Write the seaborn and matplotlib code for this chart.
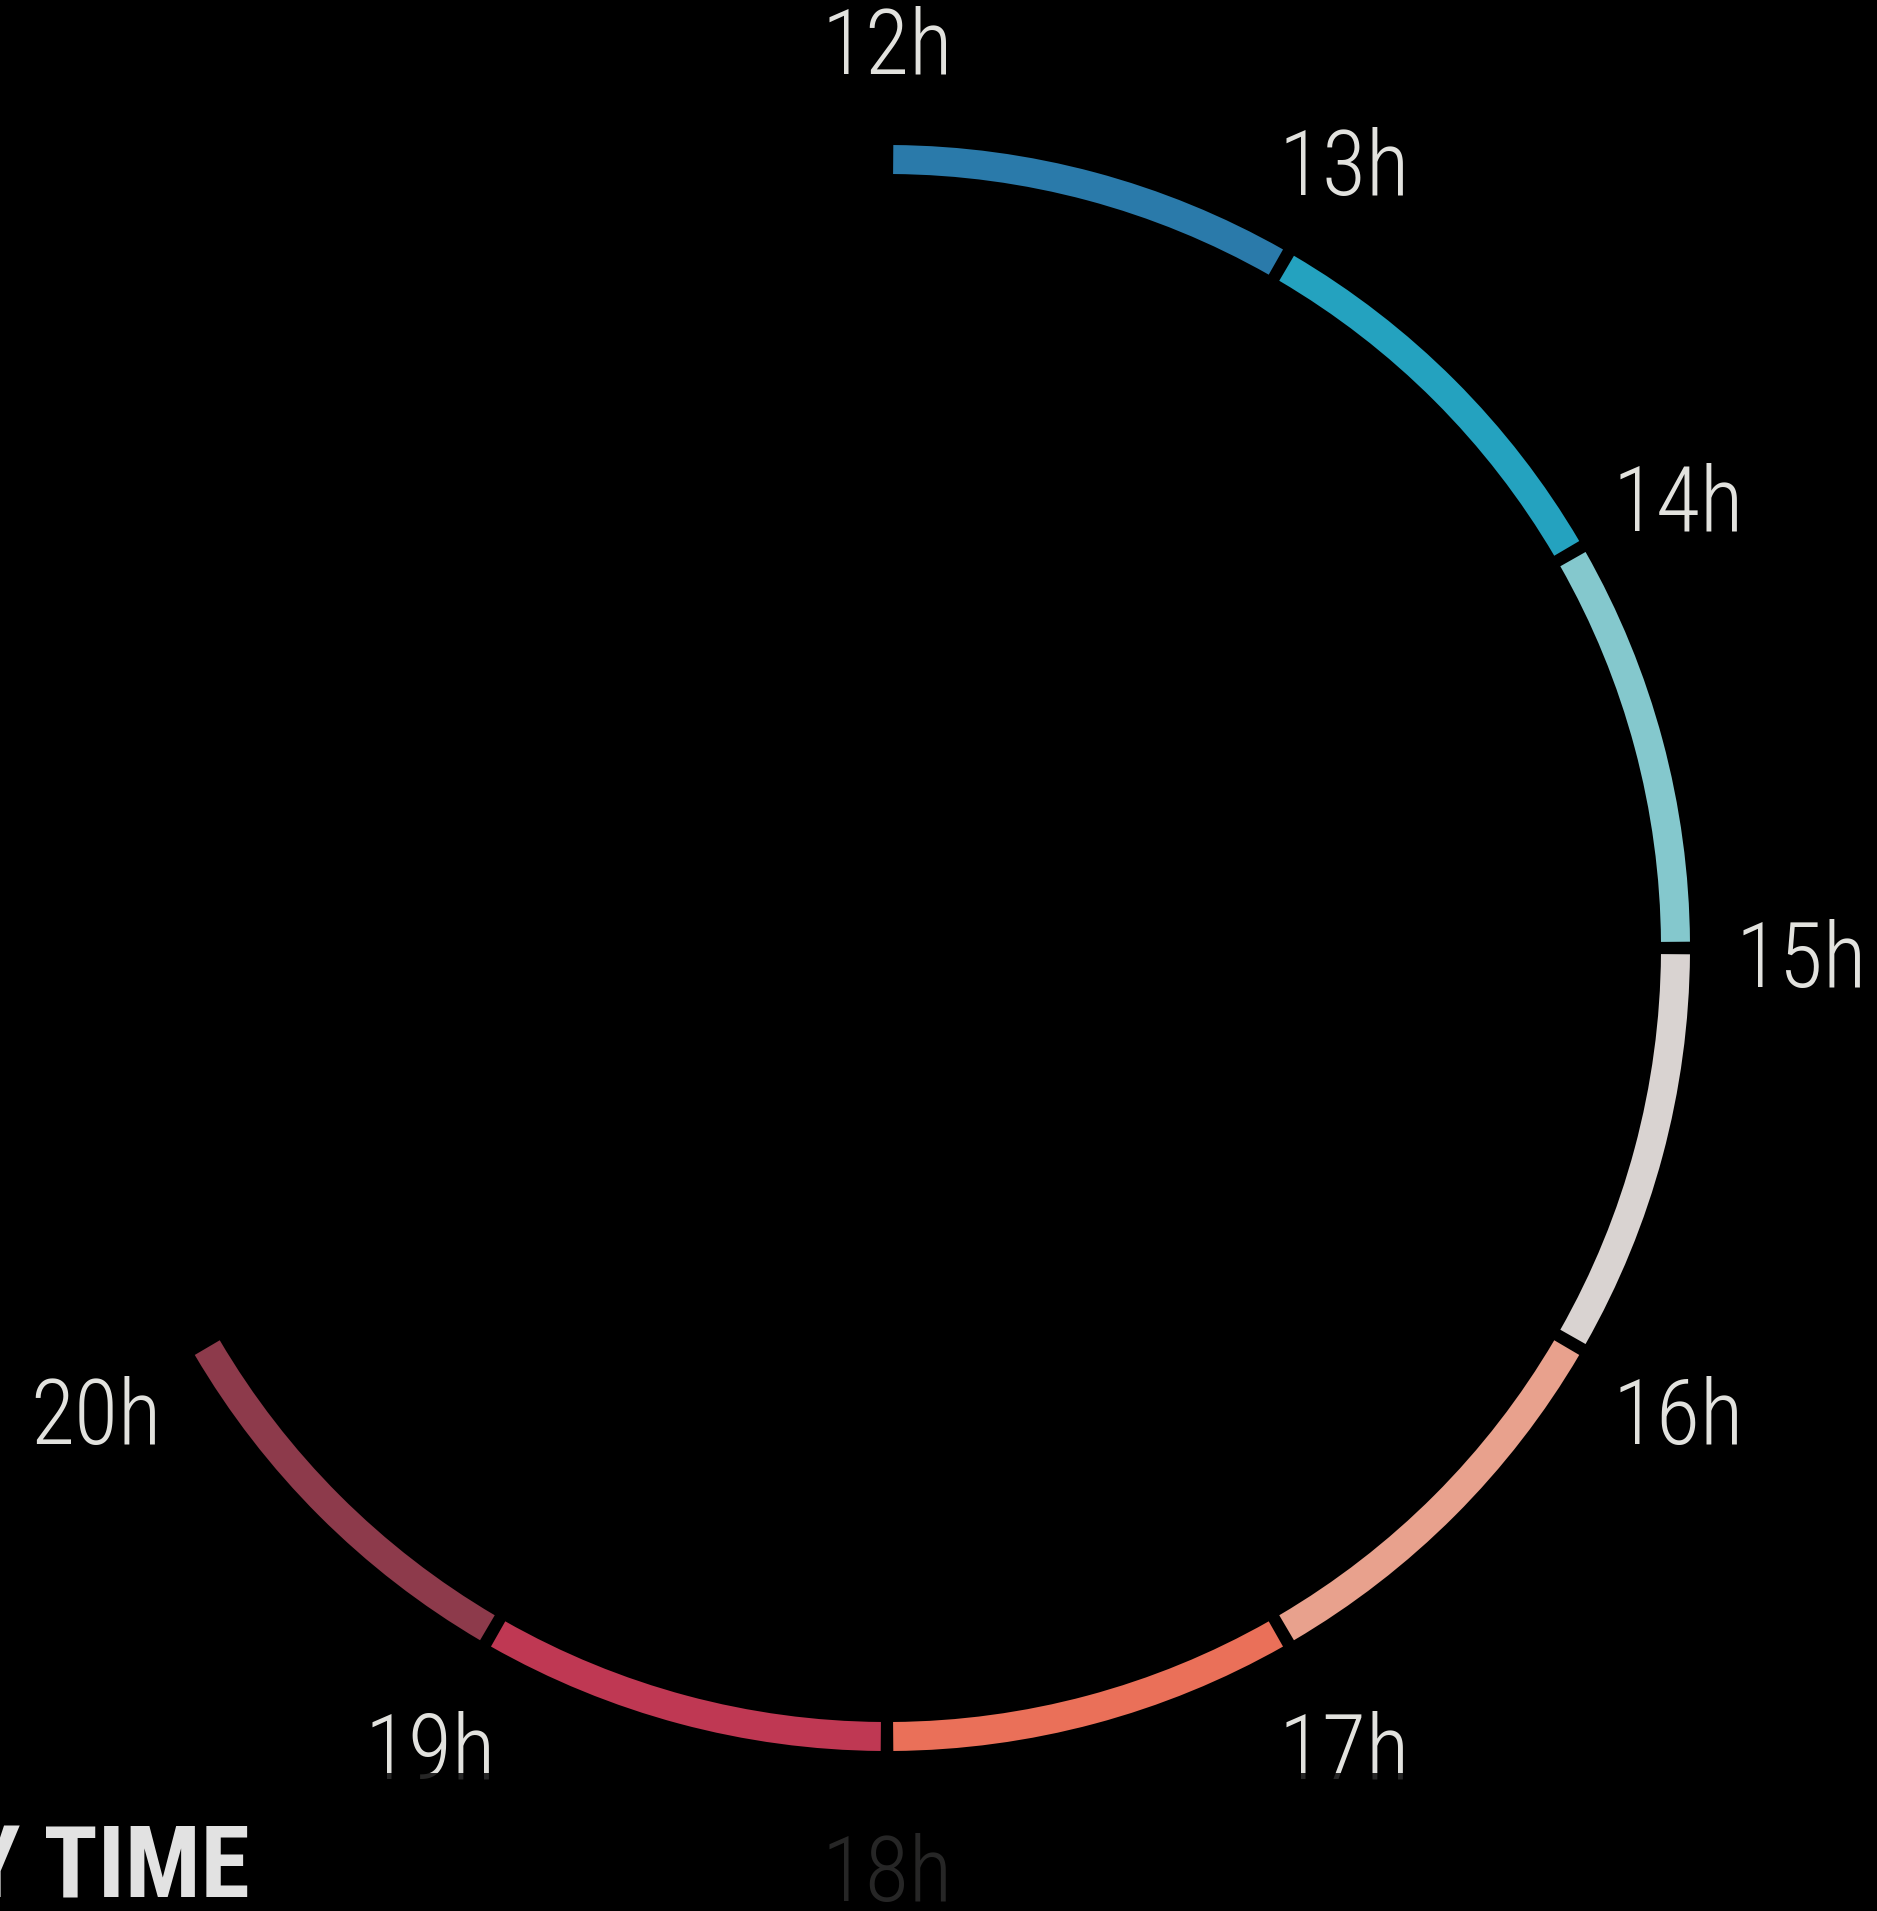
import numpy as np
import matplotlib.pyplot as plt
from matplotlib.patches import Rectangle
from matplotlib.transforms import ScaledTranslation
import seaborn as sns

# hours shown on the clock ring and the colour of each one-hour segment
hours = [12, 13, 14, 15, 16, 17, 18, 19, 20]
hour_labels = ["12h", "13h", "14h", "15h", "16h", "17h", "18h", "19h", "20h"]
segment_colors = ["#2a7aaa", "#24a2bf", "#84c8cd", "#d9d3d1",
                  "#e8a18d", "#ea7059", "#bf3853", "#8d3a4b"]
title = "BY TIME"

sns.set_theme(style="dark", rc={"figure.facecolor": "black",
                                "axes.facecolor": "black",
                                "savefig.facecolor": "black"})
plt.rcParams["font.family"] = ["Roboto Condensed", "DejaVu Sans"]
palette = sns.color_palette(segment_colors)

W, H = 1877, 1911
fig = plt.figure(figsize=(W / 100, H / 100), dpi=100)

# polar axes, 1 data unit = 1 pixel, centred on the ring
cx, cy, R = 887, H - 948, 1000
ax = fig.add_axes([(cx - R) / W, (cy - R) / H, 2 * R / W, 2 * R / H],
                  projection="polar")
ax.set_theta_zero_location("N")
ax.set_theta_direction(-1)
ax.set_ylim(0, R)
ax.set_axis_off()

gap = 0.9  # degrees of black between segments
theta = np.deg2rad((np.array(hours) - 12) * 30)
mids = (theta[:-1] + theta[1:]) / 2
ax.bar(mids, 29, width=np.deg2rad(30 - gap), bottom=774,
       color=palette, edgecolor="none", align="center")

# labels sit a little below the ring's centre line
shift = ax.transData + ScaledTranslation(0, -0.14, fig.dpi_scale_trans)
for t, lab in zip(theta, hour_labels):
    ax.text(t, 914, lab, ha="center", va="center", fontsize=65,
            fontweight="light", color="#e2e2de", transform=shift)

# dark fade over the bottom strip
fig.add_artist(Rectangle((0, 0), 1, 138 / H, transform=fig.transFigure,
                         facecolor="black", alpha=0.83, edgecolor="none",
                         zorder=5))
fig.text(250 / W, 13 / H, title, ha="right", va="baseline", fontsize=72,
         fontweight="bold", color="#e2e2e2", zorder=6)

fig.savefig("out.png", dpi=100, facecolor="black")
